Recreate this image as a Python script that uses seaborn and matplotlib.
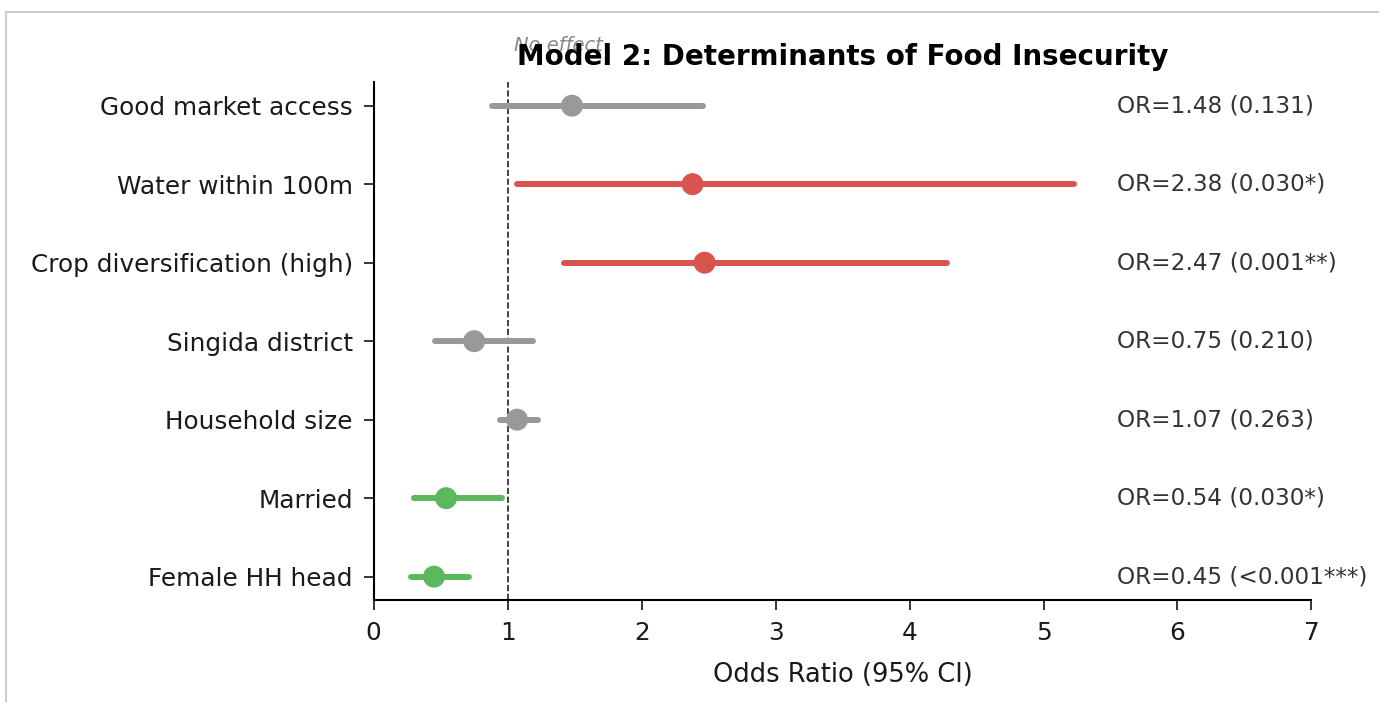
import numpy as np
import pandas as pd
import seaborn as sns
import matplotlib
matplotlib.use("Agg")
import matplotlib.pyplot as plt
from matplotlib.patches import Rectangle

# Datos (de arriba hacia abajo)
variables = ['Good market access', 'Water within 100m', 'Crop diversification (high)',
             'Singida district', 'Household size', 'Married', 'Female HH head']
odds = [1.48, 2.38, 2.47, 0.75, 1.07, 0.54, 0.45]
ci_low = [0.88, 1.07, 1.42, 0.46, 0.94, 0.30, 0.28]
ci_high = [2.46, 5.23, 4.28, 1.19, 1.23, 0.96, 0.71]
pvals = ['0.131', '0.030*', '0.001**', '0.210', '0.263', '0.030*', '<0.001***']
efecto = ['ns', 'risk', 'risk', 'ns', 'ns', 'protective', 'protective']

colores = {'ns': '#999999', 'risk': '#d9534f', 'protective': '#5cb85c'}

df = pd.DataFrame({'var': variables, 'OR': odds, 'lo': ci_low, 'hi': ci_high,
                   'p': pvals, 'efecto': efecto})
df['y'] = len(df) - 1 - np.arange(len(df))

sns.set_style('white')
fig = plt.figure(figsize=(13.79, 7.02), dpi=100)
ax = fig.add_axes([0.271, 0.145, 0.680, 0.738])

# intervalos de confianza
for _, r in df.iterrows():
    ax.hlines(r['y'], r['lo'], r['hi'], color=colores[r['efecto']], lw=4.3,
              capstyle='round', zorder=2)

sns.scatterplot(data=df, x='OR', y='y', hue='efecto', palette=colores, s=250,
                edgecolor='none', legend=False, ax=ax, zorder=3)

ax.axvline(1, color='#222222', ls='--', lw=1.2, zorder=1)
ax.text(1.05, 6.65, 'No effect', fontsize=14, color='#888888', style='italic', va='bottom')

# anotaciones OR
for _, r in df.iterrows():
    ax.text(5.55, r['y'], 'OR={:.2f} ({})'.format(r['OR'], r['p']),
            va='center', ha='left', fontsize=16.7, color='#333333')

ax.set_yticks(df['y'])
ax.set_yticklabels(df['var'], fontsize=17.8, color='#1a1a1a')
ax.set_ylim(-0.3, 6.3)
ax.set_xlim(0, 7)
ax.set_xticks(range(8))
ax.tick_params(axis='x', labelsize=17.8, labelcolor='#1a1a1a', length=7, width=1.3, pad=8,
               direction='out', bottom=True)
ax.tick_params(axis='y', length=7, width=1.3, pad=8, direction='out', left=True)
ax.set_xlabel('Odds Ratio (95% CI)', fontsize=18.5, color='#1a1a1a', labelpad=12)
ax.set_ylabel('')
ax.set_title('Model 2: Determinants of Food Insecurity', fontsize=20, fontweight='bold',
             pad=12.5, color='black')
sns.despine(ax=ax)
for s in ['left', 'bottom']:
    ax.spines[s].set_color('black')
    ax.spines[s].set_linewidth(1.5)

# marco de la captura
fig.patches.append(Rectangle((0.0044, -0.1), 1.2, 1.0832, transform=fig.transFigure,
                             fill=False, edgecolor='#cccccc', lw=1.5))

fig.savefig('out.png', dpi=100)
